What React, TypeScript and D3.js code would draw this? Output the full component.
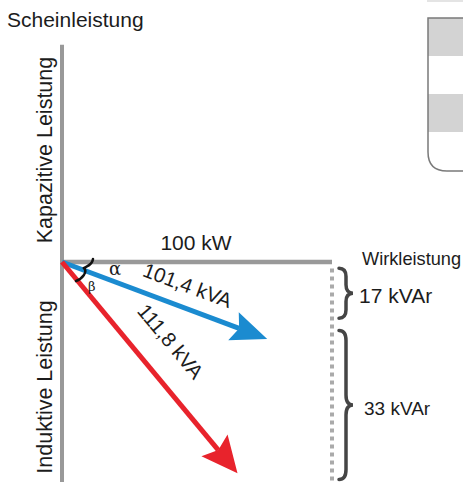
import React from 'react';
import * as d3 from 'd3';

// ---- data ----
const activePowerKW = 100;
const activeLabel = '100 kW';
const vectorLabels = ['101,4 kVA', '111,8 kVA'];
const vectorColors = ['#1b8bd0', '#e8232c'];
// tips of the vectors, in drawing units (as drawn, not to scale)
const vectorTipX = [76, 65];
const vectorTipY = [28.5, 78.2];
const reactiveLabels = ['17 kVAr', '33 kVAr'];
const reactiveFrom = [2.3, 25.4];
const reactiveTo = [20.8, 80.6];
const axisTop = -80.5;
const axisBottom = 82;
const angleLabels = ['α', 'β'];

const W = 463;
const H = 482;
const FONT = 'Liberation Sans, Arial, Helvetica, sans-serif';
const TXT = '#1c1c1c';

const x = d3.scaleLinear().domain([0, 100]).range([62, 332]);
const y = d3.scaleLinear().domain([0, 100]).range([262, 532]);

function bracePath(x0: number, y1: number, y2: number, w: number) {
  const ym = (y1 + y2) / 2;
  const r = Math.min(10, (y2 - y1) / 6);
  const xm = x0 + w / 2;
  return `M${x0},${y1} Q${xm},${y1} ${xm},${y1 + r} L${xm},${ym - r} Q${xm},${ym} ${x0 + w},${ym} Q${xm},${ym} ${xm},${ym + r} L${xm},${y2 - r} Q${xm},${y2} ${x0},${y2}`;
}

function Arrow({ i }: { i: number }) {
  const x0 = x(0), y0 = y(0);
  const x1 = x(vectorTipX[i]), y1 = y(vectorTipY[i]);
  const ang = Math.atan2(y1 - y0, x1 - x0);
  const headLen = 36;
  const headHalf = i === 0 ? 15 : 17;
  const bx = x1 - headLen * Math.cos(ang);
  const by = y1 - headLen * Math.sin(ang);
  const nx = -Math.sin(ang), ny = Math.cos(ang);
  const notch = 6;
  const nbx = bx + notch * Math.cos(ang);
  const nby = by + notch * Math.sin(ang);
  const head = `M${x1},${y1} L${bx + nx * headHalf},${by + ny * headHalf} L${nbx},${nby} L${bx - nx * headHalf},${by - ny * headHalf} Z`;
  return (
    <g>
      <line x1={x0} y1={y0} x2={nbx} y2={nby} stroke={vectorColors[i]} strokeWidth={5} />
      <path d={head} fill={vectorColors[i]} />
    </g>
  );
}

export default function App() {
  const x0 = x(0), y0 = y(0);
  const xEnd = x(activePowerKW);
  const blueAng = Math.atan2(y(vectorTipY[0]) - y0, x(vectorTipX[0]) - x0) * 180 / Math.PI;
  const redAng = Math.atan2(y(vectorTipY[1]) - y0, x(vectorTipX[1]) - x0) * 180 / Math.PI;
  return (
    <svg width={W} height={H} style={{ position: 'absolute', left: 0, top: 0 }} fontFamily={FONT}>
      <rect width={W} height={H} fill="#fff" />
      {/* top-right decoration */}
      <line x1={427} y1={1} x2={463} y2={1} stroke="#e4e4e4" strokeWidth={2} />
      <rect x={428} y={18} width={40} height={38} fill="#d3d3d3" />
      <rect x={428} y={94} width={40} height={38} fill="#d3d3d3" />
      <path d={`M463,18 L428,18 L428,152 Q428,171 447,171 L463,171`} fill="none" stroke="#7a7a7a" strokeWidth={1.5} />

      {/* axes */}
      <line x1={x0} y1={y(axisTop)} x2={x0} y2={y(axisBottom)} stroke="#999" strokeWidth={4} />
      <line x1={x0 - 2} y1={y0} x2={xEnd} y2={y0} stroke="#999" strokeWidth={4.5} />
      <line x1={xEnd} y1={y(2.4)} x2={xEnd} y2={y(axisBottom)} stroke="#aaa" strokeWidth={4} strokeDasharray="4,4" />

      {/* texts */}
      <text x={7} y={27} fontSize={21} fill={TXT}>Scheinleistung</text>
      <text transform={`translate(52,150) rotate(-90)`} textAnchor="middle" fontSize={21.5} fill={TXT}>Kapazitive Leistung</text>
      <text transform={`translate(52,387) rotate(-90)`} textAnchor="middle" fontSize={21.5} fill={TXT}>Induktive Leistung</text>
      <text x={196} y={250} textAnchor="middle" fontSize={21} fill={TXT}>{activeLabel}</text>
      <text x={362} y={265} fontSize={18.2} fill={TXT}>Wirkleistung</text>

      {/* braces */}
      {reactiveLabels.map((lab, i) => (
        <g key={lab}>
          <path d={bracePath(339, y(reactiveFrom[i]), y(reactiveTo[i]), 14)} fill="none" stroke="#454545" strokeWidth={3.5} strokeLinecap="round" />
          <text x={i === 0 ? 359 : 364} y={i === 0 ? 303 : 415} fontSize={i === 0 ? 21 : 19} fill={TXT}>{lab}</text>
        </g>
      ))}

      {/* vectors */}
      <Arrow i={0} />
      <Arrow i={1} />
      <text transform={`translate(185,292) rotate(${blueAng})`} textAnchor="middle" fontSize={20.5} fill={TXT}>{vectorLabels[0]}</text>
      <text transform={`translate(165,346) rotate(${redAng})`} textAnchor="middle" fontSize={20.5} fill={TXT}>{vectorLabels[1]}</text>

      {/* angle brace */}
      <path d="M93,259 C92,266 86,266 84,268 C88,272 82,279 76,281" fill="none" stroke="#111" strokeWidth={2.5} strokeLinecap="round" />
      <text x={109} y={275} fontSize={18} fontFamily="DejaVu Serif, serif" fill={TXT}>{angleLabels[0]}</text>
      <text x={88} y={291} fontSize={13} fontFamily="DejaVu Serif, serif" fill={TXT}>{angleLabels[1]}</text>
    </svg>
  );
}
